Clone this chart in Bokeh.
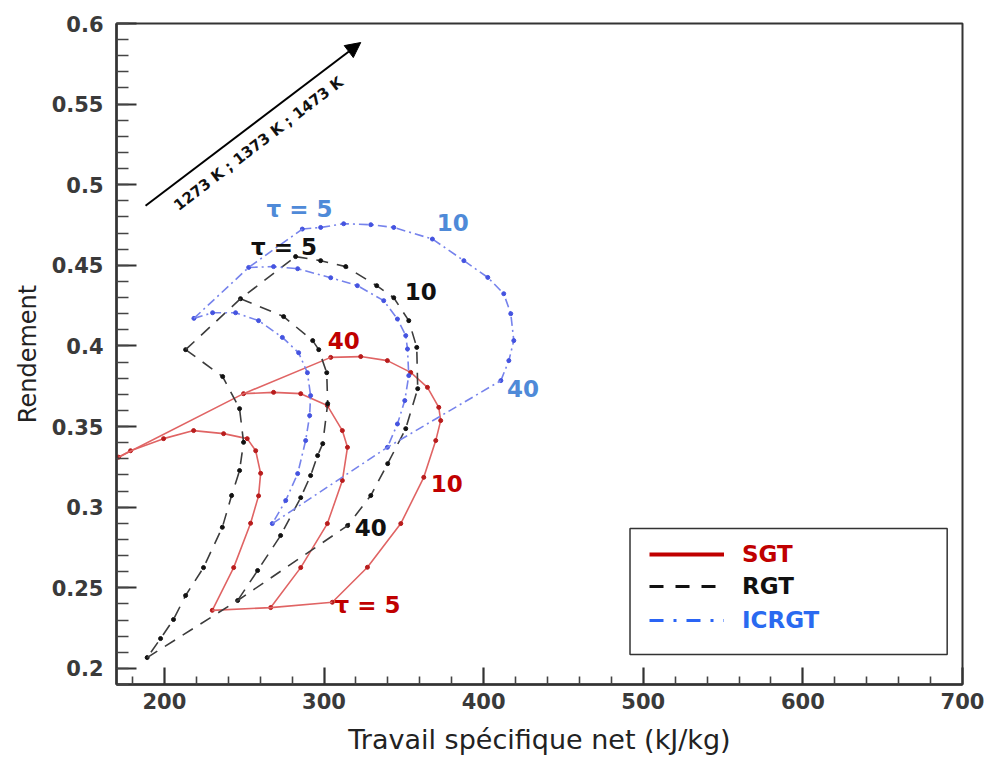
from bokeh.plotting import figure
from bokeh.models import (ColumnDataSource, Range1d, FixedTicker, Legend, LegendItem,
                          BoxAnnotation, Arrow, NormalHead, Label)
from bokeh.core.properties import value
from bokeh.embed import file_html
from bokeh.resources import INLINE

# ---------------- data ----------------
# Simple gas turbine (SGT), pressure ratio tau from 5 (first) to 40 (last)
SGT_1273_x = [230.0, 243.4, 254.0, 259.0, 260.3, 257.2, 251.9, 237.1, 218.3, 199.5, 178.8, 171.3]
SGT_1273_y = [0.236, 0.2625, 0.290, 0.307, 0.321, 0.335, 0.3425, 0.3456, 0.3475, 0.3425, 0.335, 0.331]
SGT_1373_x = [266.6, 285.4, 302.1, 311.5, 314.7, 311.5, 302.1, 285.4, 268.4, 249.6]
SGT_1373_y = [0.2377, 0.2625, 0.2898, 0.3165, 0.3371, 0.3475, 0.3630, 0.3704, 0.3712, 0.3704]
SGT_1473_x = [305.2, 327.2, 348.1, 362.5, 370.0, 373.1, 371.9, 364.8, 354.3, 339.7, 323.0, 304.2]
SGT_1473_y = [0.241, 0.2627, 0.2898, 0.3185, 0.3413, 0.3537, 0.3619, 0.3743, 0.3836, 0.3909, 0.3934, 0.3929]

# Regenerative gas turbine (RGT)
RGT_1273_x = [213.3, 236.5, 247.1, 249.6, 247.1, 242.1, 236.3, 224.5, 213.3, 205.7, 197.6, 189.2]
RGT_1273_y = [0.3977, 0.381, 0.3611, 0.3402, 0.3227, 0.3072, 0.2875, 0.2625, 0.2452, 0.2303, 0.2185, 0.2067]
RGT_1373_x = [247.7, 274.7, 292.9, 296.7, 301.7, 302.3, 299.2, 296.0, 291.6, 285.4, 272.8, 258.4, 245.9]
RGT_1373_y = [0.4293, 0.4182, 0.4033, 0.3977, 0.3834, 0.3642, 0.3394, 0.332, 0.3196, 0.3059, 0.2824, 0.2607, 0.2421]
RGT_1473_x = [282.2, 297.9, 313.6, 333.0, 343.7, 353.1, 358.1, 358.7, 351.2, 339.9, 329.3, 314.8]
RGT_1473_y = [0.4554, 0.4529, 0.4492, 0.4374, 0.4299, 0.4157, 0.3991, 0.3735, 0.3487, 0.327, 0.3072, 0.2886]

# Intercooled regenerative gas turbine (ICRGT)
ICRGT_1273_x = [218.5, 230.2, 244.6, 259.0, 273.9, 284.1, 289.6, 291.6, 291.0, 288.5, 283.5, 276.0, 267.6]
ICRGT_1273_y = [0.4171, 0.4206, 0.4206, 0.4157, 0.4053, 0.3958, 0.3834, 0.3692, 0.3568, 0.3413, 0.3208, 0.3041, 0.2898]
ICRGT_1373_x = [252.8, 268.4, 283.5, 304.2, 320.9, 337.4, 346.0, 351.2, 352.3, 353.1, 350.6, 346.0, 339.7]
ICRGT_1373_y = [0.4487, 0.4492, 0.4479, 0.4423, 0.4374, 0.4281, 0.4167, 0.4064, 0.3981, 0.3816, 0.3661, 0.3516, 0.3371]
ICRGT_1473_x = [286.4, 297.9, 312.3, 329.3, 343.7, 367.9, 387.6, 402.6, 412.6, 417.0, 418.9, 415.8, 410.8]
ICRGT_1473_y = [0.4725, 0.4735, 0.4758, 0.4752, 0.4735, 0.4663, 0.4529, 0.4425, 0.4324, 0.4200, 0.4033, 0.3909, 0.3785]

# annotation labels
label_text = ["τ = 5", "τ = 5", "10", "10", "40", "40", "10", "40", "τ = 5"]
label_x = [284.7, 275.0, 380.7, 360.6, 312.3, 424.6, 376.9, 329.3, 327.3]
label_y = [0.4851, 0.4616, 0.4764, 0.4337, 0.4033, 0.3735, 0.3146, 0.2873, 0.2396]
label_kind = ["ICRGT", "RGT", "ICRGT", "RGT", "SGT", "ICRGT", "SGT", "RGT", "SGT"]

arrow_text = "1273 K ; 1373 K ; 1473 K"
arrow_start = (188.2, 0.487)
arrow_end = (323.0, 0.5882)
arrow_text_pos = (259.0, 0.5255)

x_ticks = [200, 300, 400, 500, 600, 700]
x_minor = [180, 220, 240, 260, 280, 320, 340, 360, 380, 420, 440, 460, 480,
           520, 540, 560, 580, 620, 640, 660, 680]
y_ticks = [0.2, 0.25, 0.3, 0.35, 0.4, 0.45, 0.5, 0.55, 0.6]
y_tick_labels = ["0.2", "0.25", "0.3", "0.35", "0.4", "0.45", "0.5", "0.55", "0.6"]
y_minor = [round(0.19 + 0.01 * i, 2) for i in range(42)]

legend_names = ["SGT", "RGT", "ICRGT"]
legend_box = (491.7, 690.4, 0.2086, 0.2867)  # left, right, bottom, top

# ---------------- figure ----------------
p = figure(width=988, height=761, output_backend="svg", toolbar_location=None,
           x_range=Range1d(170, 700), y_range=Range1d(0.19, 0.6),
           min_border_left=116, min_border_right=26, min_border_top=23, min_border_bottom=77)
p.grid.visible = False
p.background_fill_color = "white"
p.border_fill_color = "white"
p.outline_line_color = "#333333"
p.outline_line_width = 2

p.xaxis.ticker = FixedTicker(ticks=x_ticks, minor_ticks=x_minor)
p.yaxis.ticker = FixedTicker(ticks=y_ticks, minor_ticks=y_minor)
p.yaxis.major_label_overrides = {t: s for t, s in zip(y_ticks, y_tick_labels)}

for ax in (p.xaxis[0], p.yaxis[0]):
    ax.axis_line_width = 2.5
    ax.axis_line_color = "#333333"
    ax.major_tick_out = 0
    ax.minor_tick_out = 0
    ax.major_tick_line_width = 2.2
    ax.minor_tick_line_width = 1.6
    ax.major_tick_line_color = "#333333"
    ax.minor_tick_line_color = "#444444"
    ax.major_label_text_font = "DejaVu Sans"
    ax.major_label_text_font_style = "bold"
    ax.major_label_text_font_size = "21px"
    ax.major_label_text_color = "#3a3a3a"
    ax.axis_label_text_font = "DejaVu Sans"
    ax.axis_label_text_font_style = "normal"
    ax.axis_label_text_color = "#222222"

p.xaxis.major_tick_in = 17
p.xaxis.minor_tick_in = 8
p.yaxis.major_tick_in = 20
p.yaxis.minor_tick_in = 12
p.xaxis.major_label_standoff = 8
p.yaxis.major_label_standoff = 13
p.xaxis.axis_label = "Travail spécifique net (kJ/kg)"
p.yaxis.axis_label = "Rendement"
p.xaxis.axis_label_text_font_size = "27px"
p.yaxis.axis_label_text_font_size = "24px"
p.xaxis.axis_label_standoff = 12
p.yaxis.axis_label_standoff = 7

styles = {
    "SGT": dict(line="#e06464", dash="solid", marker="#b81c1c", legend_color="#c00000",
                leg_dash="solid", leg_width=4, text="#c00000"),
    "RGT": dict(line="#3c3c3c", dash="12 9", marker="#111111", legend_color="#111111",
                leg_dash="14 12", leg_width=3, text="#111111"),
    "ICRGT": dict(line="#7683ec", dash="9 4 2 4", marker="#4453e0", legend_color="#2a64f5",
                  leg_dash="14 10 3 10", leg_width=3, text="#2a6af0"),
}
label_colors = {"SGT": "#c00000", "RGT": "#111111", "ICRGT": "#4f8ad8"}

series = {
    "SGT": [(SGT_1273_x, SGT_1273_y), (SGT_1373_x, SGT_1373_y), (SGT_1473_x, SGT_1473_y)],
    "RGT": [(RGT_1273_x, RGT_1273_y), (RGT_1373_x, RGT_1373_y), (RGT_1473_x, RGT_1473_y)],
    "ICRGT": [(ICRGT_1273_x, ICRGT_1273_y), (ICRGT_1373_x, ICRGT_1373_y), (ICRGT_1473_x, ICRGT_1473_y)],
}

for name, curves in series.items():
    st = styles[name]
    # curves for each turbine inlet temperature
    for cx, cy in curves:
        p.line(cx, cy, line_color=st["line"], line_width=1.6, line_dash=st["dash"])
        p.scatter(cx, cy, size=4, fill_color=st["marker"], line_color=st["marker"])
    # iso pressure-ratio lines: tau = 5 (first points) and tau = 40 (last points)
    for idx in (0, -1):
        ix = [c[0][idx] for c in curves]
        iy = [c[1][idx] for c in curves]
        p.line(ix, iy, line_color=st["line"], line_width=1.6, line_dash=st["dash"])

# annotation text
lab_src = ColumnDataSource(dict(x=label_x, y=label_y, text=label_text,
                                color=[label_colors[k] for k in label_kind]))
p.text(x="x", y="y", text="text", source=lab_src, text_color="color",
       text_font=value("DejaVu Sans"), text_font_style="bold", text_font_size="23px",
       text_align="center", text_baseline="middle")

# arrow with temperature annotation
p.add_layout(Arrow(x_start=arrow_start[0], y_start=arrow_start[1],
                   x_end=arrow_end[0], y_end=arrow_end[1],
                   line_color="black", line_width=2,
                   end=NormalHead(size=15, fill_color="black", line_color="black")))
p.add_layout(Label(x=arrow_text_pos[0], y=arrow_text_pos[1], text=arrow_text,
                   angle=0.655, text_align="center", text_baseline="middle",
                   text_font="DejaVu Sans", text_font_style="bold",
                   text_font_size="15px", text_color="#111111"))

# legend box and entries
p.add_layout(BoxAnnotation(left=legend_box[0], right=legend_box[1],
                           bottom=legend_box[2], top=legend_box[3],
                           fill_color="white", fill_alpha=1.0,
                           line_color="#333333", line_width=1.5, line_alpha=1.0))
legend_y = [117, 85, 51]
nan = float("nan")
for name, vy in zip(legend_names, legend_y):
    st = styles[name]
    # legend-only renderer (no drawable points)
    r = p.line(x=[nan, nan], y=[nan, nan], line_color=st["legend_color"],
               line_width=st["leg_width"], line_dash=st["leg_dash"])
    lg = Legend(items=[LegendItem(label=name, renderers=[r])], location=(533, vy),
                glyph_width=75, glyph_height=24, label_height=24, label_standoff=18,
                padding=0, margin=0, spacing=0, border_line_alpha=0,
                background_fill_alpha=0, label_text_font="DejaVu Sans",
                label_text_font_style="bold", label_text_font_size="23px",
                label_text_color=st["text"])
    p.add_layout(lg)

open("out.html", "w").write(file_html(p, INLINE))
